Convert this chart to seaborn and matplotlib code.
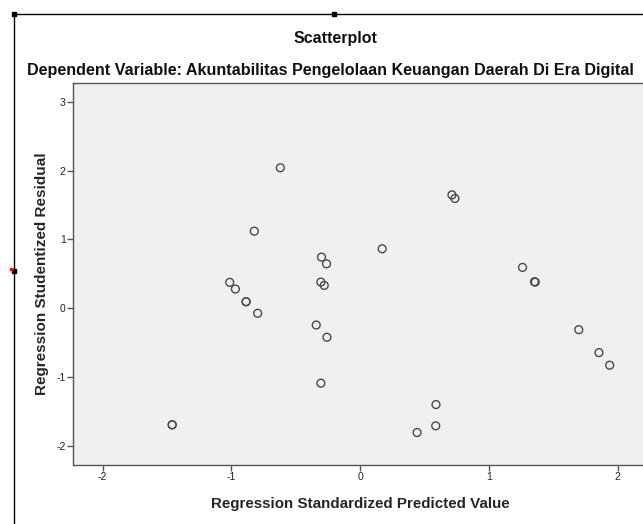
import pandas as pd
import seaborn as sns
import matplotlib.pyplot as plt
from matplotlib.lines import Line2D

# values
pred = [-0.62, -0.822, -1.013, -0.969, -0.886, -0.886, -0.796,
        -0.30, -0.261, -0.305, -0.279, -0.341, -0.258, -0.305,
        0.713, 0.736, 0.171, 1.261, 1.354, 1.36,
        -1.46, -1.46, 0.589, 0.587, 0.442, 1.698, 1.855, 1.938]
resid = [2.04, 1.12, 0.377, 0.28, 0.096, 0.096, -0.072,
         0.743, 0.646, 0.381, 0.333, -0.242, -0.42, -1.087,
         1.646, 1.594, 0.864, 0.594, 0.386, 0.38,
         -1.691, -1.691, -1.397, -1.706, -1.803, -0.31, -0.643, -0.826]
xticks = [-2, -1, 0, 1, 2]
yticks = [-2, -1, 0, 1, 2, 3]

df = pd.DataFrame({'Predicted': pred, 'Residual': resid})

sns.set_style('white')
plt.rcParams['font.family'] = ['Liberation Sans', 'DejaVu Sans']
plt.rcParams['axes.unicode_minus'] = False

W, H = 643, 524
fig = plt.figure(figsize=(W / 100, H / 100), dpi=100)
ax = fig.add_axes([73.3 / W, 1 - 464.7 / H, (647 - 73.3) / W, (464.7 - 82.7) / H])
ax.set_facecolor('#f0f0f0')

sns.scatterplot(data=df, x='Predicted', y='Residual', ax=ax, marker='o', s=32,
                facecolors='none', edgecolor='#4a4a4a', linewidth=1.0)

ax.set_xlim(-2.228, 2.228)
ax.set_ylim(-2.27, 3.275)
ax.set_xticks(xticks)
ax.set_yticks(yticks)
ax.tick_params(axis='both', direction='out', length=4, width=1, color='#555555',
               labelsize=7.5, labelcolor='#222222', pad=1.5, bottom=True, left=True)
for side, sp in ax.spines.items():
    sp.set_color('#555555')
    sp.set_linewidth(1.0)

ax.set_xlabel('Regression Standardized Predicted Value', fontsize=10.9,
              fontweight='bold', labelpad=10.5)
ax.set_ylabel('Regression Studentized Residual', fontsize=11,
              fontweight='bold', labelpad=5)

fig.text(335 / W, 1 - 39 / H, 'Scatterplot', ha='center', va='center',
         fontsize=11.5, fontweight='bold', color='#111111')
fig.text(330 / W, 1 - 70 / H,
         'Dependent Variable: Akuntabilitas Pengelolaan Keuangan Daerah Di Era Digital',
         ha='center', va='center', fontsize=11.6, fontweight='bold', color='#111111')

# SPSS selection frame and handles
fig.add_artist(Line2D([14 / W, 1], [1 - 14 / H, 1 - 14 / H], color='black', lw=1.0))
fig.add_artist(Line2D([14 / W, 14 / W], [1 - 14 / H, 0], color='black', lw=1.0))
for hx, hy in [(14, 14), (334, 14), (14, 271)]:
    fig.add_artist(Line2D([hx / W], [1 - hy / H], marker='s', markersize=3.2,
                          color='black', lw=0))
fig.add_artist(Line2D([10.5 / W], [1 - 269 / H], marker='s', markersize=1.5,
                      color='red', lw=0))

fig.savefig('out.png', dpi=100)
